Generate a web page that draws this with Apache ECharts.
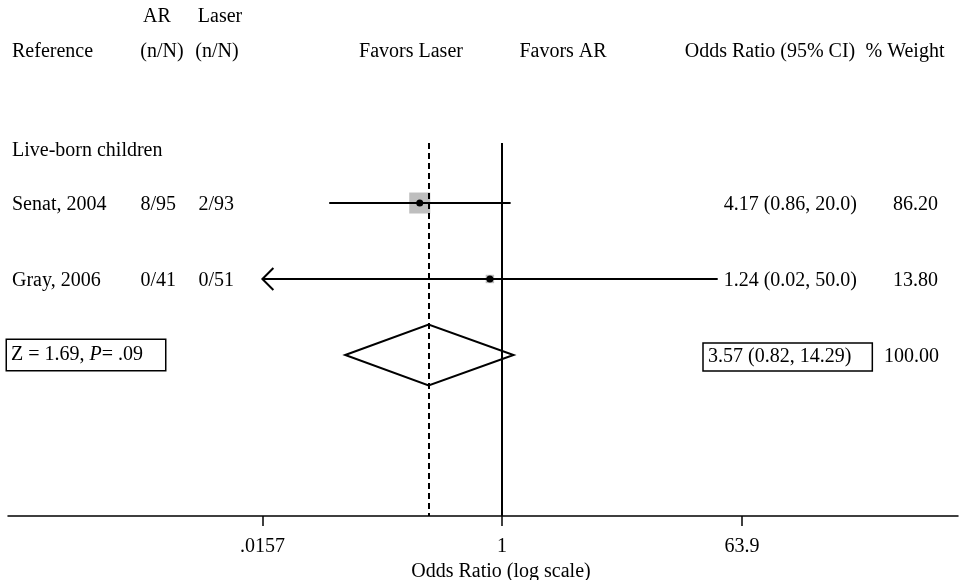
<!DOCTYPE html>
<html><head><meta charset="utf-8">
<script src="https://cdn.jsdelivr.net/npm/echarts@6/dist/echarts.min.js"></script>
<style>html,body{margin:0;padding:0;background:#fff}#c{width:966px;height:580px}</style>
</head><body><div id="c"></div>
<script>
// ---- data ----
const studies = ['Senat, 2004', 'Gray, 2006'];
const arEvents = ['8/95', '0/41'];
const laserEvents = ['2/93', '0/51'];
const orLabels = ['4.17 (0.86, 20.0)', '1.24 (0.02, 50.0)'];
const weights = [86.20, 13.80];
const weightLabels = ['86.20', '13.80'];
// plotted (inverse) odds ratios
const plotEst = [0.24, 0.81];
const plotLo = [0.05, 0.01];
const plotHi = [1.16, 42];
const pooledLabel = '3.57 (0.82, 14.29)';
const pooledWeight = '100.00';
const pooledPlot = [0.28, 0.066, 1.22]; // est, lo, hi
const groupLabel = 'Live-born children';
const tickValues = [0.0157, 1, 63.9];
const tickLabels = ['.0157', '1', '63.9'];
const axisRange = [0.000191, 2704];

const FONT = '"Liberation Serif", "Times New Roman", serif';
const FS = 20;
const studyRows = [1, 2];
const pooledRow = 3;
const ln = Math.log;
const DY = 2; // vertical text nudge

const chart = echarts.init(document.getElementById('c'), null, {renderer: 'canvas'});

const clipLo = ln(tickValues[0]), clipHi = ln(tickValues[2]);

function renderStudy(params, api) {
  const row = api.value(0), est = api.value(1), lo = api.value(2), hi = api.value(3), w = api.value(4);
  const p = api.coord([est, row]);
  const y = p[1];
  const x0 = api.coord([Math.max(lo, clipLo), row])[0];
  const x1 = api.coord([Math.min(hi, clipHi), row])[0];
  const side = 2.26 * Math.sqrt(w);
  const children = [
    {type: 'rect', shape: {x: p[0] - side / 2, y: y - side / 2, width: side, height: side}, style: {fill: '#bebebe'}},
    {type: 'line', shape: {x1: x0, y1: y, x2: x1, y2: y}, style: {stroke: '#000', lineWidth: 2}},
    {type: 'circle', shape: {cx: p[0], cy: y, r: 3.5}, style: {fill: '#000'}}
  ];
  if (lo < clipLo) {
    children.push({type: 'polyline', shape: {points: [[x0 + 11, y - 11], [x0, y], [x0 + 11, y + 11]]}, style: {stroke: '#000', lineWidth: 2, fill: null}});
  }
  if (hi > clipHi) {
    children.push({type: 'polyline', shape: {points: [[x1 - 11, y - 11], [x1, y], [x1 - 11, y + 11]]}, style: {stroke: '#000', lineWidth: 2, fill: null}});
  }
  return {type: 'group', children};
}

function renderDiamond(params, api) {
  const row = api.value(0), est = api.value(1), lo = api.value(2), hi = api.value(3);
  const pl = api.coord([lo, row]), ph = api.coord([hi, row]);
  const pt = api.coord([est, row - 0.4]), pb = api.coord([est, row + 0.4]);
  return {type: 'polygon', shape: {points: [pl, pt, ph, pb]}, style: {fill: '#fff', stroke: '#000', lineWidth: 2}};
}

const studyData = studies.map((s, i) => [studyRows[i], ln(plotEst[i]), ln(plotLo[i]), ln(plotHi[i]), weights[i]]);
const pooledData = [[pooledRow, ln(pooledPlot[0]), ln(pooledPlot[1]), ln(pooledPlot[2])]];

chart.setOption({
  animation: false,
  backgroundColor: '#fff',
  grid: {left: 8, right: 8, top: 143, bottom: 64, containLabel: false, outerBoundsMode: 'none'},
  xAxis: {
    type: 'value', min: ln(axisRange[0]), max: ln(axisRange[1]),
    splitLine: {show: false},
    axisLine: {lineStyle: {color: '#000', width: 1.5}},
    axisTick: {show: true, length: 10, lineStyle: {color: '#000', width: 1.5}, customValues: tickValues.map(ln)},
    axisLabel: {
      customValues: tickValues.map(ln), margin: 21,
      fontFamily: FONT, fontSize: FS, color: '#000',
      formatter: v => { let best = 0; tickValues.forEach((t, i) => { if (Math.abs(ln(t) - v) < Math.abs(ln(tickValues[best]) - v)) best = i; }); return tickLabels[best]; }
    },
    name: 'Odds Ratio (log scale)', nameLocation: 'middle', nameGap: 44,
    nameTextStyle: {fontFamily: FONT, fontSize: FS, color: '#000', padding: [0, 0, 0, 36]}
  },
  yAxis: {type: 'value', inverse: true, min: 0.21, max: 5.12, show: false},
  series: [
    {type: 'custom', renderItem: renderStudy, data: studyData, encode: {x: [1, 2, 3], y: 0}, z: 3},
    {type: 'custom', renderItem: renderDiamond, data: pooledData, encode: {x: [1, 2, 3], y: 0}, z: 2,
      markLine: {
        silent: true, symbol: 'none', label: {show: false},
        lineStyle: {color: '#000', width: 2, type: 'solid'},
        data: [
          {xAxis: 0},
          {xAxis: ln(pooledPlot[0]), lineStyle: {type: [6, 4], color: '#000', width: 2}}
        ]
      }
    }
  ]
});

const rowY = r => chart.convertToPixel({gridIndex: 0}, [0, r])[1];
const txt = (text, x, y, align, extra) => Object.assign({
  type: 'text', x, y: y + DY, z: 10,
  style: Object.assign({text, fontFamily: FONT, fontSize: FS, fill: '#000', align: align || 'left', verticalAlign: 'middle'}, extra || {})
});

const headerTop = 15, headerY = 50, groupY = 149;
const g = [
  txt('AR', 157, headerTop, 'center'),
  txt('Laser', 220, headerTop, 'center'),
  txt('Reference', 12, headerY, 'left'),
  txt('(n/N)', 162, headerY, 'center'),
  txt('(n/N)', 217, headerY, 'center'),
  txt('Favors Laser', 411, headerY, 'center'),
  txt('Favors AR', 563, headerY, 'center'),
  txt('Odds Ratio (95% CI)', 770, headerY, 'center'),
  txt('% Weight', 905, headerY, 'center'),
  txt(groupLabel, 12, groupY, 'left')
];
studies.forEach((s, i) => {
  const y = rowY(studyRows[i]);
  g.push(txt(s, 12, y, 'left'));
  g.push(txt(arEvents[i], 176, y, 'right'));
  g.push(txt(laserEvents[i], 234, y, 'right'));
  g.push(txt(orLabels[i], 857, y, 'right'));
  g.push(txt(weightLabels[i], 938, y, 'right'));
});
const py = rowY(pooledRow);
g.push({
  type: 'text', x: 7, y: py, z: 10,
  style: {
    text: '{n|Z = 1.69, }{i|P}{n|= .09}',
    rich: {n: {fontFamily: FONT, fontSize: FS, fill: '#000'}, i: {fontFamily: FONT, fontSize: FS, fontStyle: 'italic', fill: '#000'}},
    fontFamily: FONT, fontSize: FS, fill: '#000', align: 'left', verticalAlign: 'middle',
    padding: [5, 22, 5, 4], borderColor: '#000', borderWidth: 1.5, backgroundColor: '#fff'
  }
});
g.push(txt(pooledLabel, 703, py, 'left', {padding: [4, 21, 4, 5], borderColor: '#000', borderWidth: 1.5}));
g.push(txt(pooledWeight, 939, py, 'right'));

chart.setOption({graphic: {elements: g}});
</script>
</body></html>
